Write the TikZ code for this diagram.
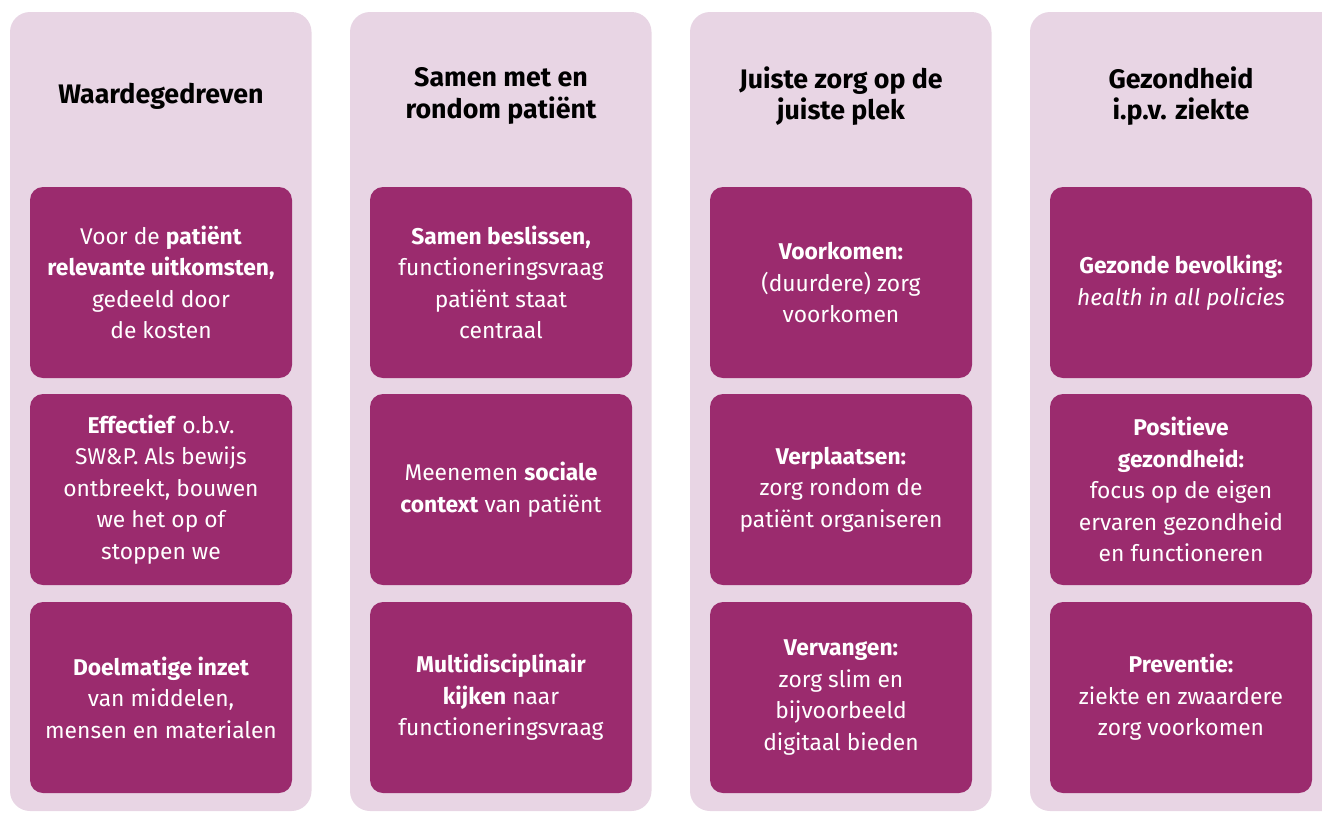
\documentclass[tikz,border=0pt]{standalone}
\usepackage{fontspec}
\setmainfont{Fira Sans}
\definecolor{panelbg}{RGB}{232,213,228}
\definecolor{boxbg}{RGB}{155,43,110}
\begin{document}
\begin{tikzpicture}[x=1pt,y=-1pt,
  panel/.style={fill=panelbg,draw=none,rounded corners=20pt},
  card/.style={fill=boxbg,draw=none,rounded corners=13pt,minimum width=262pt,minimum height=191pt,
    text=white,align=center,font=\fontsize{22.8}{31.5}\selectfont,inner sep=0pt},
  title/.style={align=center,text=black,font=\fontsize{26.8}{31.5}\selectfont\bfseries,inner sep=0pt}]
\clip (0,0) rectangle (1322,812);
% panels
\foreach \x in {10,350,690} {
  \path[panel] (\x,12) rectangle ++(301.5,799);
}
\path[panel] (1030,12) rectangle (1360,811);
% titles
\node[title] (t1) at (161,96) {Waardegedreven};
\node[title] (t2) at (501,96) {Samen met en\\rondom patiënt};
\node[title] (t3) at (841,96) {Juiste zorg op de\\juiste plek};
\node[title] (t4) at (1181,96) {Gezondheid\\i.p.v. ziekte};
% column 1
\node[card] (a1) at (161,282.5) {Voor de \textbf{patiënt}\\\textbf{relevante uitkomsten,}\\gedeeld door\\de kosten};
\node[card] (a2) at (161,489.5) {\textbf{Effectief} o.b.v.\\SW\&P. Als bewijs\\ontbreekt, bouwen\\we het op of\\stoppen we};
\node[card] (a3) at (161,697.5) {\textbf{Doelmatige inzet}\\van middelen,\\mensen en materialen};
% column 2
\node[card] (b1) at (501,282.5) {\textbf{Samen beslissen,}\\functioneringsvraag\\patiënt staat\\centraal};
\node[card] (b2) at (501,489.5) {Meenemen \textbf{sociale}\\\textbf{context} van patiënt};
\node[card] (b3) at (501,697.5) {\textbf{Multidisciplinair}\\\textbf{kijken} naar\\functioneringsvraag};
% column 3
\node[card] (c1) at (841,282.5) {\textbf{Voorkomen:}\\(duurdere) zorg\\voorkomen};
\node[card] (c2) at (841,489.5) {\textbf{Verplaatsen:}\\zorg rondom de\\patiënt organiseren};
\node[card] (c3) at (841,697.5) {\textbf{Vervangen:}\\zorg slim en\\bijvoorbeeld\\digitaal bieden};
% column 4
\node[card] (d1) at (1181,282.5) {\textbf{Gezonde bevolking:}\\\textit{health in all policies}};
\node[card] (d2) at (1181,489.5) {\textbf{Positieve}\\\textbf{gezondheid:}\\focus op de eigen\\ervaren gezondheid\\en functioneren};
\node[card] (d3) at (1181,697.5) {\textbf{Preventie:}\\ziekte en zwaardere\\zorg voorkomen};
\end{tikzpicture}
\end{document}
